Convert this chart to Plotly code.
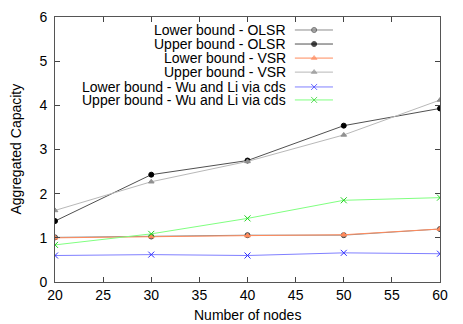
import plotly.graph_objects as go

# Data
nodes = [20, 30, 40, 50, 60]
lower_olsr = [1.01, 1.03, 1.06, 1.06, 1.20]
upper_olsr = [1.38, 2.43, 2.75, 3.54, 3.93]
lower_vsr = [1.00, 1.03, 1.05, 1.07, 1.20]
upper_vsr = [1.62, 2.27, 2.73, 3.33, 4.12]
lower_wu = [0.60, 0.62, 0.60, 0.66, 0.64]
upper_wu = [0.84, 1.09, 1.44, 1.85, 1.91]

names = ['Lower bound - OLSR', 'Upper bound - OLSR', 'Lower bound - VSR',
         'Upper bound - VSR', 'Lower bound - Wu and Li via cds',
         'Upper bound - Wu and Li via cds']
series = [lower_olsr, upper_olsr, lower_vsr, upper_vsr, lower_wu, upper_wu]

# style per series: line colour, marker symbol, marker colour, marker outline, size
styles = [
    ('#8c8c8c', 'circle', '#8c8c8c', '#404040', 5),
    ('#505050', 'circle', 'black', 'black', 5),
    ('#ff8a5c', 'triangle-up', '#ff8a5c', '#ff8a5c', 5),
    ('#b8b8b8', 'triangle-up', '#909090', '#909090', 5),
    ('#8080ff', 'x-thin', '#3030ff', '#3030ff', 6),
    ('#80ff80', 'x-thin', '#20d020', '#20d020', 6),
]

fig = go.Figure()

for name, ys, st in zip(names, series, styles):
    lc, sym, mc, ml, ms = st
    fig.add_trace(go.Scatter(x=nodes, y=ys, name=name, mode='lines+markers',
                             line=dict(color=lc, width=1),
                             marker=dict(symbol=sym, color=mc, size=ms,
                                         line=dict(color=ml, width=1)),
                             showlegend=False))

# gnuplot style key: text right aligned, sample to the right
key_rows = [0.951, 0.898, 0.845, 0.792, 0.736, 0.687]
for name, row, st in zip(names, key_rows, styles):
    lc, sym, mc, ml, ms = st
    fig.add_trace(go.Scatter(x=[0.623, 0.673, 0.722], y=[row] * 3,
                             xaxis='x2', yaxis='y2', mode='lines+markers',
                             line=dict(color=lc, width=1),
                             marker=dict(symbol=sym, color=mc, size=[0, ms, 0],
                                         line=dict(color=ml, width=1)),
                             showlegend=False, hoverinfo='skip'))
    fig.add_annotation(x=0.603, y=row, xref='paper', yref='paper',
                       text=name, showarrow=False, xanchor='right',
                       yanchor='middle', borderpad=0,
                       font=dict(size=14, color='black'))

# axis titles placed as annotations so they sit where gnuplot put them
fig.add_annotation(x=0.5, y=0, xref='paper', yref='paper', yshift=-33,
                   text='Number of nodes', showarrow=False,
                   xanchor='center', yanchor='middle', font=dict(size=14))
fig.add_annotation(x=0, y=0.5, xref='paper', yref='paper', xshift=-40,
                   text='Aggregated Capacity', showarrow=False, textangle=-90,
                   xanchor='center', yanchor='middle', font=dict(size=14))

fig.update_layout(
    width=463, height=324,
    margin=dict(l=55, r=23, t=17, b=42),
    paper_bgcolor='white', plot_bgcolor='white',
    font=dict(family='Liberation Sans, Arial, sans-serif', size=14, color='black'),
    xaxis=dict(range=[20, 60], dtick=5, ticks='inside', ticklen=5,
               showline=True, linecolor='#555', linewidth=1, mirror='ticks',
               showgrid=False, zeroline=False, automargin=False),
    yaxis=dict(range=[0, 6], dtick=1, ticks='inside', ticklen=5,
               showline=True, linecolor='#555', linewidth=1, mirror='ticks',
               showgrid=False, zeroline=False, automargin=False,
               ticklabelstandoff=4),
    xaxis2=dict(range=[0, 1], overlaying='x', visible=False),
    yaxis2=dict(range=[0, 1], overlaying='y', visible=False),
)

# drop the browser's default body margin so the figure fills the window
fig.write_html("out.html", config={'displayModeBar': False},
               post_script="document.body.style.margin='0';")
